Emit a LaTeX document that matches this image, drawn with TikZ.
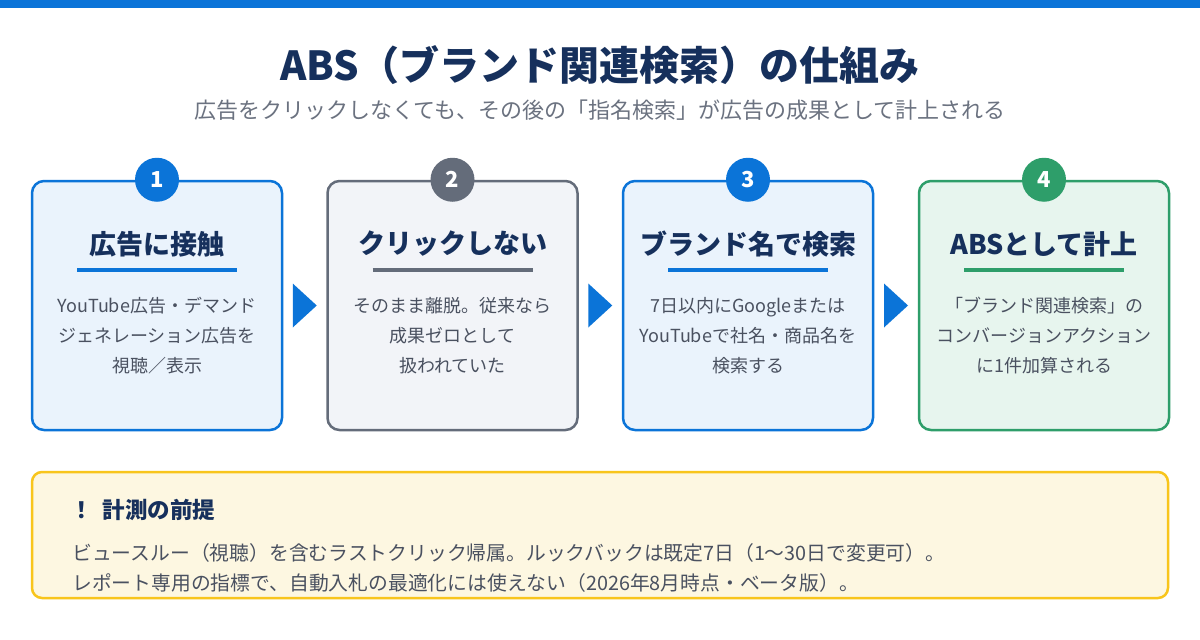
\documentclass[tikz,border=0pt]{standalone}
\usepackage{fontspec}
\setmainfont{Noto Sans CJK JP}
\usetikzlibrary{calc}
\definecolor{topblue}{HTML}{0B74D8}
\definecolor{navy}{HTML}{16305C}
\definecolor{subgray}{HTML}{6B7280}
\definecolor{bodygray}{HTML}{4A5160}
\definecolor{bluefill}{HTML}{EAF3FC}
\definecolor{slate}{HTML}{646C7A}
\definecolor{slatefill}{HTML}{F2F4F8}
\definecolor{green}{HTML}{2E9E6A}
\definecolor{greenfill}{HTML}{E7F5EE}
\definecolor{yel}{HTML}{F8C51C}
\definecolor{yelfill}{HTML}{FDF7E1}
\tikzset{
  stepbox/.style={draw=#1, line width=2.5pt, rounded corners=12pt, minimum width=250pt, minimum height=249pt, inner sep=0pt},
  numdot/.style={circle, fill=#1, minimum size=44pt, inner sep=0pt, text=white, font=\fontsize{22}{24}\selectfont\bfseries},
  headtxt/.style={text=navy, font=\fontsize{27}{30}\selectfont\bfseries},
  bodytxt/.style={text=bodygray, font=\fontsize{18}{30}\selectfont, align=center},
  rule/.style={line width=4pt, draw=#1},
  flowarrow/.style={fill=topblue},
}
\begin{document}
\begin{tikzpicture}[x=1pt,y=-1pt]
\useasboundingbox (0,0) rectangle (1200,640);
\fill[white] (0,0) rectangle (1200,640);
\fill[topblue] (0,0) rectangle (1200,8);
\node[text=navy, font=\fontsize{40}{44}\selectfont\bfseries] (title) at (600,65) {ABS（ブランド関連検索）の仕組み};
\node[text=subgray, font=\fontsize{22}{24}\selectfont] (sub) at (600,110) {広告をクリックしなくても、その後の「指名検索」が広告の成果として計上される};

\foreach \i/\cx/\col/\fil/\head/\body in {
 1/157/topblue/bluefill/広告に接触/{YouTube広告・デマンド\\ジェネレーション広告を\\視聴／表示},
 2/452.5/slate/slatefill/クリックしない/{そのまま離脱。従来なら\\成果ゼロとして\\扱われていた},
 3/748/topblue/bluefill/ブランド名で検索/{7日以内にGoogleまたは\\YouTubeで社名・商品名を\\検索する},
 4/1044/green/greenfill/ABSとして計上/{「ブランド関連検索」の\\コンバージョンアクション\\に1件加算される}}{
  \node[stepbox=\col, fill=\fil] (b\i) at (\cx,305.5) {};
  \node[numdot=\col] (n\i) at (b\i.north) {\i};
  \node[headtxt] (h\i) at (\cx,244) {\head};
  \draw[rule=\col] ($(b\i.north)+(-80,90)$) coordinate (ul\i) -- ($(b\i.north)+(80,90)$) coordinate (ur\i);
  \node[bodytxt, anchor=north] (t\i) at (\cx,294) {\body};
}
\foreach \a/\b in {1/2,2/3,3/4}{
  \coordinate (m\a) at ($(b\a.east)!0.5!(b\b.west)$);
  \fill[flowarrow] ($(m\a)+(-12,-22)$) -- ($(m\a)+(12,0)$) -- ($(m\a)+(-12,22)$) -- cycle;
}
\node[draw=yel, fill=yelfill, line width=2.5pt, rounded corners=10pt, minimum width=1136pt, minimum height=126pt, inner sep=0pt] (note) at (600,535) {};
\node[anchor=west, text=navy, font=\fontsize{22.5}{24}\selectfont\bfseries, inner sep=0pt] (nh) at (70,510) {！\hspace{10pt}計測の前提};
\node[anchor=west, text=bodygray, font=\fontsize{19.8}{30}\selectfont, align=left, inner sep=0pt] (nb) at (72,568) {ビュースルー（視聴）を含むラストクリック帰属。ルックバックは既定7日（1〜30日で変更可）。\\レポート専用の指標で、自動入札の最適化には使えない（2026年8月時点・ベータ版）。};
\end{tikzpicture}
\end{document}
